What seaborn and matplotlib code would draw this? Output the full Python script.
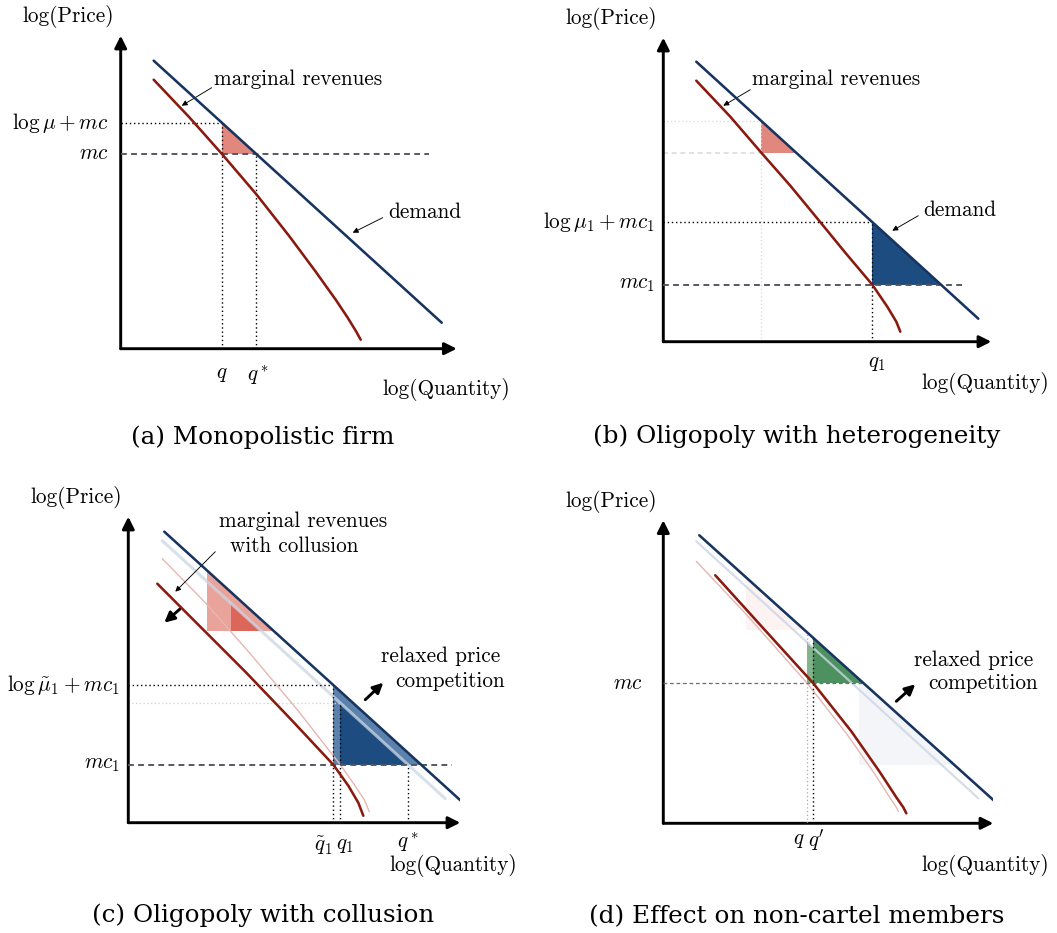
import numpy as np
import matplotlib
matplotlib.use("Agg")
import matplotlib.pyplot as plt
import seaborn as sns

sns.set_theme(style="white")
plt.rcParams["font.family"] = ["cmr10", "DejaVu Serif"]
plt.rcParams["mathtext.fontset"] = "cm"
plt.rcParams["axes.formatter.use_mathtext"] = True
plt.rcParams["text.color"] = "black"

# ---------------------------------------------------------------------------
# Schematic curves (log-quantity, log-price units, origin at the axes corner)
# ---------------------------------------------------------------------------
# (a) monopolistic firm
A_DEMAND_Q = [3.3, 32.1]
A_DEMAND_P = [28.8, 2.6]
A_MR_Q = [3.3, 6.9, 10.1, 13.6, 16.9, 19.5, 21.5, 22.7, 23.5, 24.0]
A_MR_P = [26.9, 23.1, 19.5, 15.4, 11.2, 7.7, 4.9, 3.1, 1.8, 0.9]
A_MC = 19.5
A_Q = 10.1

# (b) oligopoly with heterogeneity
B_DEMAND_Q = [3.3, 31.5]
B_DEMAND_P = [28.0, 2.3]
B_MR_Q = [3.3, 6.7, 9.8, 12.7, 15.5, 18.2, 20.9, 22.4, 23.3, 23.7]
B_MR_P = [26.1, 22.5, 18.9, 15.6, 12.2, 8.9, 5.7, 3.5, 2.0, 1.0]
B_MC1 = 5.7
B_Q1 = 20.9
B_MC_OTHER = 18.9
B_Q_OTHER = 9.8

# (c) oligopoly with collusion
C_DEMAND_Q = [3.6, 33.8]
C_DEMAND_P = [29.1, 1.7]
C_OLD_DEMAND_Q = [3.4, 31.7]
C_OLD_DEMAND_P = [28.2, 2.4]
C_MR_Q = [2.9, 7.2, 11.7, 16.2, 20.5, 22.0, 23.0, 23.5]
C_MR_P = [23.9, 19.6, 15.1, 10.4, 5.8, 3.7, 2.0, 0.7]
C_OLD_MR_Q = [3.4, 7.7, 12.2, 16.9, 21.2, 22.6, 23.6, 24.1]
C_OLD_MR_P = [26.4, 22.0, 16.9, 11.3, 5.8, 3.8, 2.3, 1.1]
C_MC1 = 5.8
C_Q1_TILDE = 20.5
C_Q1 = 21.2
C_MC_OTHER = 19.2
C_Q_OTHER_NEW = 7.9
C_Q_OTHER_OLD = 10.3

# (d) effect on non-cartel members
D_DEMAND_Q = [3.6, 33.7]
D_DEMAND_P = [28.8, 1.7]
D_OLD_DEMAND_Q = [3.3, 31.5]
D_OLD_DEMAND_P = [28.2, 2.5]
D_MR_Q = [5.2, 10.0, 15.0, 18.8, 21.6, 23.3, 24.0, 24.3]
D_MR_P = [24.8, 19.5, 14.0, 9.2, 5.2, 2.6, 1.6, 1.0]
D_OLD_MR_Q = [3.3, 8.2, 14.4, 18.3, 21.1, 22.7, 23.3, 23.5]
D_OLD_MR_P = [26.2, 21.0, 14.0, 9.0, 5.0, 2.5, 1.6, 1.2]
D_MC = 14.0
D_Q = 14.4
D_Q_PRIME = 15.0
D_GHOST_RED = (8.3, 19.3)
D_GHOST_BLUE = (19.6, 5.8)

CAPTIONS = ["(a) Monopolistic firm", "(b) Oligopoly with heterogeneity",
            "(c) Oligopoly with collusion", "(d) Effect on non-cartel members"]

# ---------------------------------------------------------------------------
NAVY = "#17345f"
MR_RED = "#8a1a0e"
FAINT_BLUE = "#cbd6e3"
FAINT_RED = "#e6b6b3"
DASH_GREY = "#545964"
DOT = (0, (1, 2))
DASH = (0, (3, 2.2))

W, H = 1057, 933
fig = plt.figure(figsize=(W / 100, H / 100), dpi=100)
LBL = 15.3
CAP = 17.7
LINE_W = 1.85


def price_at(qs, ps, q):
    return float(np.interp(q, qs, ps))


def qty_at(qs, ps, p):
    return float(np.interp(p, ps[::-1], qs[::-1]))


def make_panel(ox, oy, lx, ly):
    ax = fig.add_axes([ox / W, 1 - oy / H, lx * 10 / W, ly * 10 / H])
    ax.set_xlim(0, lx)
    ax.set_ylim(0, ly)
    ax.axis("off")
    for tip in [(lx, 0), (0, ly)]:
        ax.annotate("", xy=tip, xytext=(0, 0), annotation_clip=False,
                    arrowprops=dict(arrowstyle="-|>", color="black", lw=2.1,
                                    mutation_scale=18, shrinkA=0, shrinkB=0))
    ax.text(-5.2, ly + 1.9, "log(Price)", fontsize=LBL, ha="center", va="center")
    return ax


def curve(ax, q, p, color, lw=LINE_W, z=4, alpha=1.0):
    sns.lineplot(x=q, y=p, ax=ax, color=color, lw=lw, zorder=z, alpha=alpha,
                 estimator=None, sort=False, legend=False)


def triangle(ax, q0, top, base, q_right, color, alpha=1.0, z=1):
    ax.fill([q0, q0, q_right], [top, base, base], color=color, lw=0,
            alpha=alpha, zorder=z)


def hline(ax, y, x1, style, color="black", lw=1.0, z=3, x0=0):
    ax.plot([x0, x1], [y, y], ls=style, color=color, lw=lw, zorder=z)


def vline(ax, x, y1, style, color="black", lw=1.0, z=3):
    ax.plot([x, x], [0, y1], ls=style, color=color, lw=lw, zorder=z)


def pointer(ax, start, end, bold=False):
    props = dict(arrowstyle="-|>", color="black", shrinkA=0, shrinkB=0)
    if bold:
        props.update(lw=2.1, mutation_scale=15)
    else:
        props.update(lw=0.65, mutation_scale=8)
    ax.annotate("", xy=end, xytext=start, arrowprops=props, annotation_clip=False)


# ---------------- (a) ----------------
ax = make_panel(120.7, 348.7, 33.6, 31.3)
a_markup = price_at(A_DEMAND_Q, A_DEMAND_P, A_Q)
a_qstar = qty_at(A_DEMAND_Q, A_DEMAND_P, A_MC)
triangle(ax, A_Q, a_markup, A_MC, a_qstar, "#e2877d")
hline(ax, a_markup, A_Q, DOT)
vline(ax, A_Q, a_markup, DOT)
vline(ax, a_qstar, A_MC, DOT)
hline(ax, A_MC, 30.8, DASH, DASH_GREY, 1.4)
curve(ax, A_DEMAND_Q, A_DEMAND_P, NAVY)
curve(ax, A_MR_Q, A_MR_P, MR_RED)
ax.text(-1.2, a_markup, r"$\log\mu + mc$", fontsize=LBL, ha="right", va="center")
ax.text(-1.2, A_MC, r"$mc$", fontsize=LBL, ha="right", va="center")
ax.text(17.7, 26.9, "marginal revenues", fontsize=LBL, ha="center", va="center")
pointer(ax, (9.1, 26.1), (6.1, 24.3))
ax.text(30.4, 13.6, "demand", fontsize=LBL, ha="center", va="center")
pointer(ax, (26.2, 13.1), (23.2, 11.6))
ax.text(A_Q, -2.6, r"$q$", fontsize=LBL, ha="center", va="center")
ax.text(a_qstar + 0.2, -2.6, r"$q^*$", fontsize=LBL, ha="center", va="center")
ax.text(32.6, -4.1, "log(Quantity)", fontsize=LBL, ha="center", va="center")
ax.text(14.2, -8.85, CAPTIONS[0], fontsize=CAP, family="DejaVu Serif",
        ha="center", va="center")

# ---------------- (b) ----------------
ax = make_panel(663.3, 341.7, 32.8, 30.4)
b_markup = price_at(B_DEMAND_Q, B_DEMAND_P, B_Q1)
b_right = qty_at(B_DEMAND_Q, B_DEMAND_P, B_MC1)
b_other_top = price_at(B_DEMAND_Q, B_DEMAND_P, B_Q_OTHER)
b_other_right = qty_at(B_DEMAND_Q, B_DEMAND_P, B_MC_OTHER)
triangle(ax, B_Q_OTHER, b_other_top, B_MC_OTHER, b_other_right, "#e2877d")
triangle(ax, B_Q1, b_markup, B_MC1, b_right, "#1c4c80")
hline(ax, b_other_top, B_Q_OTHER, DOT, "#d6d6d6", 0.9, 2)
hline(ax, B_MC_OTHER, B_Q_OTHER, DASH, "#dcdcdc", 1.2, 2)
vline(ax, B_Q_OTHER, b_other_top, DOT, "#d6d6d6", 0.9, 2)
hline(ax, b_markup, B_Q1, DOT)
vline(ax, B_Q1, b_markup, DOT)
hline(ax, B_MC1, 30.0, DASH, DASH_GREY, 1.4)
curve(ax, B_DEMAND_Q, B_DEMAND_P, NAVY)
curve(ax, B_MR_Q, B_MR_P, MR_RED)
ax.text(-0.8, b_markup, r"$\log\mu_1 + mc_1$", fontsize=LBL, ha="right", va="center")
ax.text(-0.8, B_MC1, r"$mc_1$", fontsize=LBL, ha="right", va="center")
ax.text(17.3, 26.2, "marginal revenues", fontsize=LBL, ha="center", va="center")
pointer(ax, (8.7, 25.2), (6.0, 23.6))
ax.text(29.7, 13.1, "demand", fontsize=LBL, ha="center", va="center")
pointer(ax, (25.5, 12.6), (22.9, 11.1))
ax.text(B_Q1 + 0.5, -2.2, r"$q_1$", fontsize=LBL, ha="center", va="center")
ax.text(32.2, -4.2, "log(Quantity)", fontsize=LBL, ha="center", va="center")
ax.text(13.3, -9.5, CAPTIONS[1], fontsize=CAP, family="DejaVu Serif",
        ha="center", va="center")

# ---------------- (c) ----------------
ax = make_panel(128.3, 822.7, 33.2, 30.6)
c_new_top = price_at(C_DEMAND_Q, C_DEMAND_P, C_Q1_TILDE)
c_new_right = qty_at(C_DEMAND_Q, C_DEMAND_P, C_MC1)
c_old_top = price_at(C_OLD_DEMAND_Q, C_OLD_DEMAND_P, C_Q1)
c_qstar = qty_at(C_OLD_DEMAND_Q, C_OLD_DEMAND_P, C_MC1)
triangle(ax, C_Q1_TILDE, c_new_top, C_MC1, c_new_right, "#5a82ad")
triangle(ax, C_Q1, c_old_top, C_MC1, c_qstar, "#1c4c80")
triangle(ax, C_Q_OTHER_NEW, price_at(C_DEMAND_Q, C_DEMAND_P, C_Q_OTHER_NEW),
         C_MC_OTHER, qty_at(C_DEMAND_Q, C_DEMAND_P, C_MC_OTHER), "#eaa39b")
triangle(ax, C_Q_OTHER_OLD, price_at(C_OLD_DEMAND_Q, C_OLD_DEMAND_P, C_Q_OTHER_OLD),
         C_MC_OTHER, qty_at(C_OLD_DEMAND_Q, C_OLD_DEMAND_P, C_MC_OTHER), "#dc665a")
curve(ax, C_OLD_DEMAND_Q, C_OLD_DEMAND_P, FAINT_BLUE, lw=2.2, z=2, alpha=0.75)
curve(ax, C_OLD_MR_Q, C_OLD_MR_P, FAINT_RED, lw=1.0, z=2)
hline(ax, c_old_top, C_Q1, DOT, "#cfcfcf", 0.9, 2)
hline(ax, c_new_top, C_Q1_TILDE, DOT)
vline(ax, C_Q1_TILDE, c_new_top, DOT)
vline(ax, C_Q1, c_old_top, DOT)
vline(ax, c_qstar, C_MC1, DOT)
hline(ax, C_MC1, 32.4, DASH, DASH_GREY, 1.4)
curve(ax, C_DEMAND_Q, C_DEMAND_P, NAVY)
curve(ax, C_MR_Q, C_MR_P, MR_RED)
ax.text(-0.8, c_new_top, r"$\log\tilde{\mu}_1 + mc_1$", fontsize=LBL,
        ha="right", va="center")
ax.text(-0.8, C_MC1, r"$mc_1$", fontsize=LBL, ha="right", va="center")
ax.text(17.5, 30.1, "marginal revenues", fontsize=LBL, ha="center", va="center")
ax.text(16.6, 27.65, "with collusion", fontsize=LBL, ha="center", va="center")
pointer(ax, (8.7, 27.1), (4.7, 23.1))
pointer(ax, (5.2, 21.4), (3.6, 20.0), bold=True)
ax.text(31.2, 16.6, "relaxed price", fontsize=LBL, ha="center", va="center")
ax.text(32.2, 14.1, "competition", fontsize=LBL, ha="center", va="center")
pointer(ax, (23.7, 12.3), (25.5, 14.0), bold=True)
ax.text(C_Q1_TILDE - 1.0, -2.3, r"$\tilde{q}_1$", fontsize=LBL, ha="center", va="center")
ax.text(C_Q1 + 0.5, -2.3, r"$q_1$", fontsize=LBL, ha="center", va="center")
ax.text(c_qstar, -1.9, r"$q^*$", fontsize=LBL, ha="center", va="center")
ax.text(32.5, -4.25, "log(Quantity)", fontsize=LBL, ha="center", va="center")
ax.text(13.5, -9.25, CAPTIONS[2], fontsize=CAP, family="DejaVu Serif",
        ha="center", va="center")

# ---------------- (d) ----------------
ax = make_panel(663.3, 823.3, 33.0, 30.3)
gq, gp = D_GHOST_RED
triangle(ax, gq, price_at(D_DEMAND_Q, D_DEMAND_P, gq), gp,
         qty_at(D_DEMAND_Q, D_DEMAND_P, gp), "#f3c6c0", alpha=0.2)
gq, gp = D_GHOST_BLUE
triangle(ax, gq, price_at(D_DEMAND_Q, D_DEMAND_P, gq), gp,
         qty_at(D_DEMAND_Q, D_DEMAND_P, gp), "#c9d3e6", alpha=0.22)
triangle(ax, D_Q, price_at(D_OLD_DEMAND_Q, D_OLD_DEMAND_P, D_Q), D_MC,
         qty_at(D_OLD_DEMAND_Q, D_OLD_DEMAND_P, D_MC), "#80b48a")
d_top = price_at(D_DEMAND_Q, D_DEMAND_P, D_Q_PRIME)
triangle(ax, D_Q_PRIME, d_top, D_MC,
         qty_at(D_DEMAND_Q, D_DEMAND_P, D_MC), "#4e9160")
curve(ax, D_OLD_DEMAND_Q, D_OLD_DEMAND_P, FAINT_BLUE, lw=1.6, z=2, alpha=0.8)
curve(ax, D_OLD_MR_Q, D_OLD_MR_P, FAINT_RED, lw=1.0, z=2)
vline(ax, D_Q, d_top + 0.4, DOT, "#a8a8a8", 0.9)
vline(ax, D_Q_PRIME, d_top, DOT)
hline(ax, D_MC, qty_at(D_DEMAND_Q, D_DEMAND_P, D_MC), (0, (3, 2.2)), "#6a6e76", 0.9)
curve(ax, D_DEMAND_Q, D_DEMAND_P, NAVY)
curve(ax, D_MR_Q, D_MR_P, MR_RED)
ax.text(-2.0, D_MC, r"$mc$", fontsize=LBL, ha="right", va="center")
ax.text(D_Q - 0.8, -1.7, r"$q$", fontsize=LBL, ha="center", va="center")
ax.text(D_Q_PRIME + 0.3, -1.7, r"$q'$", fontsize=LBL, ha="center", va="center")
ax.text(31.0, 16.3, "relaxed price", fontsize=LBL, ha="center", va="center")
ax.text(32.0, 14.0, "competition", fontsize=LBL, ha="center", va="center")
pointer(ax, (23.3, 12.2), (25.2, 13.9), bold=True)
ax.text(32.2, -4.2, "log(Quantity)", fontsize=LBL, ha="center", va="center")
ax.text(13.3, -9.35, CAPTIONS[3], fontsize=CAP, family="DejaVu Serif",
        ha="center", va="center")

fig.savefig("out.png", dpi=100, facecolor="white")
